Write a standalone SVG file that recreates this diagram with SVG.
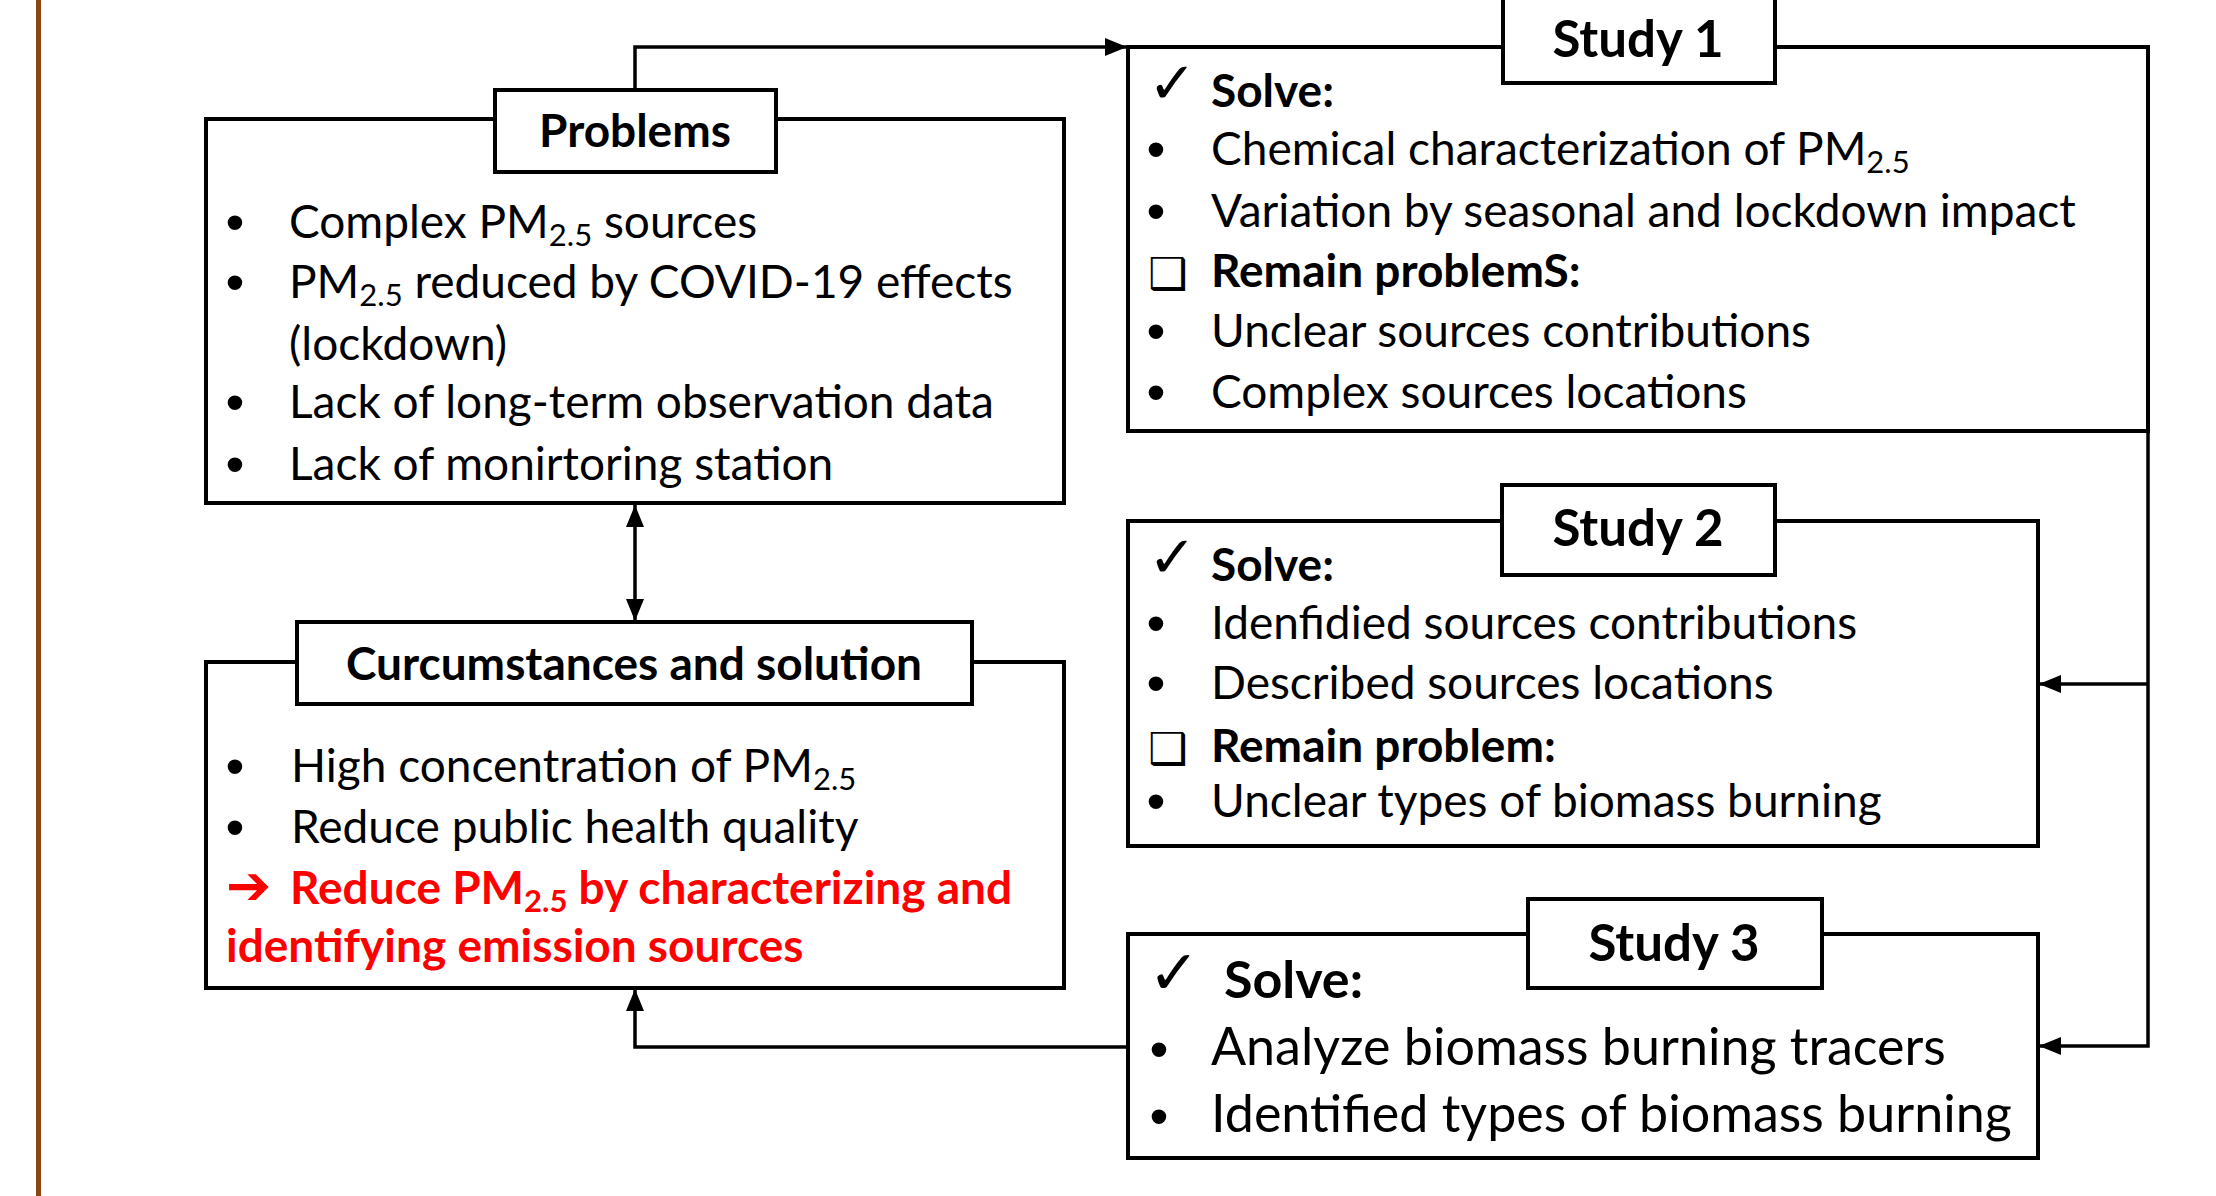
<svg xmlns="http://www.w3.org/2000/svg" width="2216" height="1196" viewBox="0 0 2216 1196">
<style>
.box{fill:#fff;stroke:#000;stroke-width:4}
.lbl{fill:#fff;stroke:#000;stroke-width:4}
.con{fill:none;stroke:#000;stroke-width:3.5}
text{font-family:Lato,"Liberation Sans",sans-serif;fill:#000}
.t{font-size:46px}
.t3{font-size:52px}
.h{font-size:46px;font-weight:bold;text-anchor:middle}
.hs{font-size:51px;font-weight:bold;text-anchor:middle}
.b{font-weight:bold}
.bu{font-family:"Liberation Sans",sans-serif;font-size:54px;text-anchor:middle}
.ck{font-family:"DejaVu Sans",sans-serif;font-weight:bold}
.sq{font-family:"DejaVu Sans",sans-serif;font-size:44px;font-weight:bold}
.red{fill:#f00;font-weight:bold}
</style>
<defs>
<marker id="ah" viewBox="0 0 22 18" refX="22" refY="9" markerWidth="22" markerHeight="18" markerUnits="userSpaceOnUse" orient="auto-start-reverse">
<path d="M0,0 L22,9 L0,18 z" fill="#000"/>
</marker>
</defs>
<rect x="36" y="0" width="5" height="1196" fill="#8B4513"/>
<g id="connectors">
<path class="con" d="M635,90 V47 H1127" marker-end="url(#ah)"/>
<path class="con" d="M635,505 V621" marker-start="url(#ah)" marker-end="url(#ah)"/>
<path class="con" d="M2148,431 V1046 H2039" marker-end="url(#ah)"/>
<path class="con" d="M2148,684 H2039" marker-end="url(#ah)"/>
<path class="con" d="M1128,1047 H635 V989" marker-end="url(#ah)"/>
</g>
<g id="problems">
<rect class="box" x="206" y="119" width="858" height="384"/>
<rect class="lbl" x="495" y="90" width="281" height="82"/>
<text class="h" x="635" y="147">Problems</text>
<text class="bu" x="235" y="241">•</text><text class="t" x="289" y="238">Complex PM<tspan font-size="31" dy="8">2.5</tspan><tspan dy="-8"> sources</tspan></text>
<text class="bu" x="235" y="301">•</text><text class="t" x="289" y="298">PM<tspan font-size="31" dy="8">2.5</tspan><tspan dy="-8"> reduced by COVID-19 effects</tspan></text>
<text class="t" x="289" y="360">(lockdown)</text>
<text class="bu" x="235" y="421">•</text><text class="t" x="289" y="418">Lack of long-term observation data</text>
<text class="bu" x="235" y="483">•</text><text class="t" x="289" y="480">Lack of monirtoring station</text>
</g>
<g id="circumstances">
<rect class="box" x="206" y="662" width="858" height="326"/>
<rect class="lbl" x="297" y="622" width="675" height="82"/>
<text class="h" x="634" y="680">Curcumstances and solution</text>
<text class="bu" x="235" y="785">•</text><text class="t" x="291" y="782">High concentration of PM<tspan font-size="31" dy="8">2.5</tspan></text>
<text class="bu" x="235" y="846">•</text><text class="t" x="291" y="843">Reduce public health quality</text>
<text class="t red" x="226" y="904"><tspan class="ck" font-size="54">➔</tspan><tspan x="290">Reduce PM</tspan><tspan font-size="31" dy="8">2.5</tspan><tspan dy="-8"> by characterizing and</tspan></text>
<text class="t red" x="226" y="962">identifying emission sources</text>
</g>
<g id="study1">
<rect class="box" x="1128" y="47" width="1020" height="384"/>
<rect class="lbl" x="1503" y="-10" width="272" height="93"/>
<text class="hs" x="1638" y="57">Study 1</text>
<text class="ck" x="1148" y="103" font-size="58">✓</text><text class="t b" x="1211" y="107">Solve:</text>
<text class="bu" x="1156" y="168">•</text><text class="t" x="1211" y="165">Chemical characterization of PM<tspan font-size="31" dy="8">2.5</tspan></text>
<text class="bu" x="1156" y="230">•</text><text class="t" x="1211" y="227">Variation by seasonal and lockdown impact</text>
<text class="sq" x="1148" y="289">❑</text><text class="t b" x="1211" y="287">Remain problemS:</text>
<text class="bu" x="1156" y="350">•</text><text class="t" x="1211" y="347">Unclear sources contributions</text>
<text class="bu" x="1156" y="411">•</text><text class="t" x="1211" y="408">Complex sources locations</text>
</g>
<g id="study2">
<rect class="box" x="1128" y="521" width="910" height="325"/>
<rect class="lbl" x="1502" y="485" width="273" height="90"/>
<text class="hs" x="1638" y="546">Study 2</text>
<text class="ck" x="1148" y="577" font-size="58">✓</text><text class="t b" x="1211" y="581">Solve:</text>
<text class="bu" x="1156" y="642">•</text><text class="t" x="1211" y="639">Idenfidied sources contributions</text>
<text class="bu" x="1156" y="702">•</text><text class="t" x="1211" y="699">Described sources locations</text>
<text class="sq" x="1148" y="764">❑</text><text class="t b" x="1211" y="762">Remain problem:</text>
<text class="bu" x="1156" y="820">•</text><text class="t" x="1211" y="817">Unclear types of biomass burning</text>
</g>
<g id="study3">
<rect class="box" x="1128" y="934" width="910" height="224"/>
<rect class="lbl" x="1528" y="899" width="294" height="89"/>
<text class="hs" x="1674" y="961">Study 3</text>
<text class="ck" x="1148" y="994" font-size="62">✓</text><text class="t3 b" x="1224" y="998">Solve:</text>
<text class="bu" x="1159" y="1068" font-size="58">•</text><text class="t3" x="1211" y="1065">Analyze biomass burning tracers</text>
<text class="bu" x="1159" y="1135" font-size="58">•</text><text class="t3" x="1211" y="1132">Identified types of biomass burning</text>
</g>
</svg>
